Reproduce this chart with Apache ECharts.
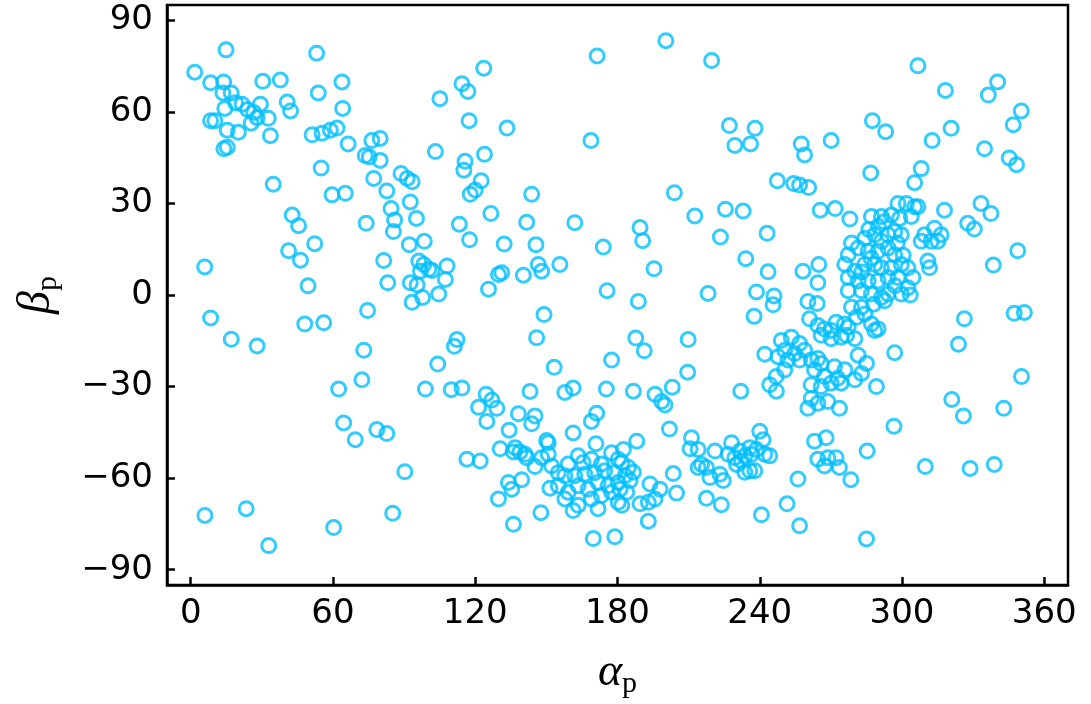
<!DOCTYPE html>
<html>
<head>
<meta charset="utf-8">
<script src="https://cdn.jsdelivr.net/npm/echarts@6/dist/echarts.min.js"></script>
<style>
html, body { margin: 0; padding: 0; background: #fff; }
#chart { width: 1091px; height: 704px; }
</style>
</head>
<body>
<div id="chart"></div>
<script>
// tick labels
var xTicks = [0, 60, 120, 180, 240, 300, 360];
var yTicks = [-90, -60, -30, 0, 30, 60, 90];

// alpha_p / beta_p values, grouped by region
var ptsUpperLeft = [
[14.9,80.3],[1.7,73.0],[8.4,69.5],[13.9,69.8],[13.6,66.2],[17.1,66.2],[18.9,63.0],[21.7,62.5],[14.4,61.1],[24.0,60.8],
[29.4,62.5],[26.6,59.8],[28.0,58.1],[25.5,56.3],[32.7,57.9],[8.4,57.1],[10.2,57.1],[15.4,54.0],[20.1,53.3],[33.6,52.2],
[14.0,47.9],[15.4,48.4],[30.4,70.0],[37.8,70.4],[40.7,63.2],[42.1,60.3],[34.8,36.3],[53.1,79.2],[53.8,66.2],[63.8,69.8],
[64.1,61.1],[51.2,52.5],[55.4,53.0],[58.9,54.0],[61.7,54.7],[66.4,49.5],[55.0,41.6],[76.4,50.6],[79.9,51.3],[73.6,45.7],
[75.3,45.2],[79.9,44.1],[77.2,38.2],[82.7,34.1],[59.6,32.8],[65.2,33.3],
[171.4,78.3],[168.8,50.6],[123.6,74.3],[114.4,69.2],[116.9,66.7],[105.1,64.3],[117.4,57.1],[133.4,54.7],[103.2,47.0],
[123.9,46.1],[115.7,43.8],[115.2,40.9],[122.5,37.4],[120.0,34.4],[117.9,33.0],[88.7,39.8],[91.3,38.2],[93.4,37.1],
[92.6,30.5],[143.8,33.0]
];
var ptsUpperRight = [
[200.4,83.3],[219.7,76.8],[227.2,55.5],[238.0,54.6],[229.5,49.0],[236.1,49.5],[257.5,49.5],[258.9,45.9],[270.1,50.6],
[204.0,33.5],[247.4,37.4],[254.3,36.5],[256.8,36.0],[260.6,35.2],
[306.7,75.1],[318.3,67.0],[340.3,69.8],[336.4,65.5],[350.3,60.3],[346.9,55.8],[287.5,57.1],[293.1,53.5],[312.7,50.6],
[320.7,54.6],[334.8,47.9],[345.2,44.9],[348.3,42.7],[286.8,40.0],[308.1,41.4],[305.3,36.8]
];
var ptsMiddleLeft = [
[42.8,26.2],[45.5,22.7],[74.0,23.5],[84.5,28.3],[86.0,24.6],[85.5,20.8],[52.3,16.8],[41.3,14.5],[46.3,11.4],[5.9,9.2],
[49.5,3.0],[81.4,11.3],[83.1,4.0],[74.6,-5.1],[8.4,-7.5],[48.1,-9.5],[56.1,-9.1],[17.1,-14.5],[28.0,-16.7],[73.0,-18.1],
[72.2,-27.8],[62.4,-30.8],
[95.2,25.1],[126.6,26.7],[113.3,23.2],[141.7,23.8],[162.0,23.7],[92.2,16.5],[98.5,17.6],[117.6,18.1],[132.2,16.7],
[145.6,16.5],[174.0,15.7],[96.2,11.1],[98.3,10.0],[100.4,8.4],[96.9,7.8],[101.8,8.0],[108.1,9.5],[107.4,5.1],[92.6,4.0],
[95.5,3.3],[97.8,-0.8],[93.4,-2.4],[104.6,0.3],[125.6,1.9],[129.8,6.7],[131.2,7.3],[140.3,6.5],[146.6,10.0],[148.0,7.8],
[155.7,10.0],[175.6,1.4],[149.0,-6.4],[145.9,-14.0],[112.3,-14.6],[111.2,-16.8],[104.2,-22.6],[153.3,-23.7],[177.5,-21.3],
[99.0,-30.8],[109.9,-31.0],[114.4,-30.5],[124.6,-32.5],[143.1,-31.6],[157.8,-31.9],[161.3,-30.5],[175.3,-30.8]
];
var ptsMiddleRight = [
[225.5,28.1],[233.0,27.5],[212.6,25.9],[189.5,22.1],[190.6,17.8],[223.4,19.0],[243.1,20.2],[265.5,27.8],[271.8,28.3],
[195.4,8.6],[234.1,11.9],[243.5,7.6],[258.2,7.8],[264.9,10.0],[264.5,4.0],[275.9,10.0],[218.2,0.5],[188.8,-2.1],
[238.6,1.0],[246.0,-0.3],[245.6,-3.2],[260.3,-2.1],[264.2,-2.8],[237.6,-7.0],[261.0,-7.8],
[264.5,-10.0],[267.3,-11.1],[270.1,-11.6],[272.2,-8.9],[265.9,-13.2],[270.1,-14.3],[274.3,-13.8],[275.7,-9.5],
[187.7,-14.1],[191.3,-18.3],[209.8,-14.6],
[249.1,-14.9],[253.3,-13.8],[256.8,-15.9],[250.5,-18.1],[254.7,-19.2],[258.9,-18.1],[247.7,-20.2],[251.9,-21.3],
[256.8,-21.3],[250.5,-24.6],[242.1,-19.4],[246.9,-26.7],[244.2,-29.4],
[261.7,-21.3],[264.5,-20.8],[265.9,-22.4],[263.1,-24.6],[267.3,-26.7],[271.5,-23.5],[272.9,-27.3],[261.7,-29.4],
[265.9,-30.0],[270.1,-28.9],[274.3,-28.9],
[209.6,-25.3],[186.7,-31.5],[195.8,-32.5],[203.1,-30.2],[232.0,-31.5],[247.0,-31.5],
[278.0,24.9],[287.1,25.7],[291.3,25.7],[295.5,26.2],[298.3,30.0],[301.8,30.0],[305.3,28.9],[306.7,28.9],[303.9,25.7],
[299.0,25.1],[317.9,27.8],[333.3,30.0],[337.5,26.7],[327.7,23.5],[330.5,21.6],[348.8,14.5],[338.5,9.8],[347.3,-6.0],
[351.6,-5.7],[326.3,-7.8],[323.8,-16.1],[350.4,-26.7],[296.9,-18.9],[289.2,-30.0],[281.5,-19.7],[285.0,-22.4],
[282.9,-25.7],[280.1,-27.8],[275.9,-24.5],
[309.5,19.7],[313.7,21.9],[316.5,19.7],[308.1,17.6],[312.3,17.6],[315.1,17.6],[310.9,11.1],[311.6,8.9],
[278.7,17.0],[281.5,15.4],[284.3,18.6],[288.5,19.7],[291.3,17.6],[294.1,19.7],[296.9,20.8],[299.7,19.7],[285.7,14.3],
[289.9,14.3],[294.1,15.4],[296.9,13.2],[288.5,10.0],[284.3,10.0],[291.3,8.9],[295.5,8.9],[299.7,10.0],[302.5,8.9],
[304.6,5.7],[280.1,7.8],[277.3,5.7],[281.5,4.6],[285.7,4.6],[289.9,4.6],[294.1,5.7],[298.3,5.7],[282.9,1.4],[287.1,0.3],
[291.3,-0.8],[294.1,0.3],[299.7,0.3],[302.5,2.4],[292.7,-1.9],[277.3,1.4],[277.3,13.2],
[290.0,22.5],[292.5,24.0],[286.0,21.5],[298.0,17.0],[300.5,13.0],[287.0,12.0],[283.0,7.5],[297.0,3.0],[303.5,0.0],[288.0,-3.0],
[278.7,-4.0],[282.9,-4.0],[280.8,-7.3],[284.3,-6.2],[287.1,-9.5],[289.9,-11.1],[288.5,-11.6],[277.3,-10.5],[280.1,-14.3],[276.6,-13.2]
];
var ptsLowerLeft = [
[64.5,-41.9],[69.4,-47.4],[78.5,-44.1],[82.7,-45.4],[6.0,-72.2],[23.4,-70.0],[32.9,-82.1],[60.3,-76.2],[85.2,-71.5],
[90.3,-57.9],[127.0,-34.4],[129.1,-37.1],[121.4,-36.8],[124.9,-41.4],[138.2,-38.9],[145.2,-39.6],[143.8,-42.2],[134.3,-44.3],
[161.3,-45.2],[171.2,-38.7],[169.0,-41.4],[170.9,-48.7],[150.1,-47.7],[150.8,-48.4],[130.5,-50.4],[136.8,-50.0],
[136.1,-51.4],[138.9,-51.4],[141.0,-52.2],[141.7,-53.3],[145.2,-56.2],[148.0,-53.3],[150.8,-52.2],[116.5,-53.8],[122.1,-54.4],
[152.2,-56.0],[155.0,-58.2],[159.2,-55.4],[163.4,-52.7],[165.5,-54.9],[169.0,-53.8],[173.2,-55.4],[177.5,-51.7],
[180.3,-53.8],[157.8,-59.2],[162.0,-59.2],[166.2,-58.7],[170.4,-58.2],[174.6,-57.6],[178.8,-58.2],[155.0,-62.5],
[159.2,-64.6],[163.4,-62.5],[167.6,-63.6],[171.8,-61.4],[176.0,-62.5],[180.3,-61.4],[157.8,-66.8],[163.4,-68.9],
[169.0,-66.8],[173.2,-65.7],[177.5,-64.6],[180.3,-67.9],[161.3,-70.6],[171.8,-70.0],
[151.5,-63.3],[134.0,-61.4],[135.4,-63.6],[139.6,-60.5],[129.8,-66.8],[147.7,-71.3],[136.1,-75.1],[169.8,-79.8],[178.9,-79.2]
];
var ptsLowerRight = [
[198.6,-34.9],[200.0,-36.0],[261.7,-33.9],[264.5,-35.5],[260.3,-37.1],[268.7,-34.9],[273.6,-37.1],
[201.9,-43.9],[188.1,-47.9],
[182.5,-50.6],[181.8,-54.9],[184.6,-56.5],[186.7,-58.1],[183.2,-59.2],[185.3,-60.8],[181.1,-63.6],[183.9,-64.6],[181.8,-68.9],
[193.7,-61.9],[197.9,-63.6],[195.8,-66.8],[193.0,-67.9],[189.5,-68.4],[193.0,-74.1],
[203.5,-58.5],[204.9,-64.9],[211.2,-46.8],[210.6,-50.4],[214.0,-50.6],[215.4,-55.5],[214.0,-56.5],[217.5,-56.5],
[221.1,-51.1],[219.0,-59.8],[223.2,-58.7],[224.6,-60.8],[217.5,-66.6],[223.8,-68.7],
[228.1,-48.4],[226.7,-52.2],[229.5,-53.3],[231.6,-51.1],[232.3,-54.4],[233.7,-52.7],[235.8,-50.0],[236.5,-52.2],
[238.6,-50.6],[240.0,-44.6],[241.4,-47.4],[242.1,-52.2],[244.2,-52.7],[233.7,-58.1],[235.8,-57.6],[237.9,-57.6],[230.2,-55.5],
[256.1,-60.3],[240.7,-72.0],[251.5,-68.4],[256.8,-75.6],[263.1,-47.9],[268.0,-46.8],[264.5,-53.8],[268.7,-53.3],
[272.2,-53.3],[267.3,-56.0],[273.6,-56.5],
[321.0,-34.2],[325.9,-39.6],[342.9,-37.1],[296.6,-43.0],[285.3,-51.1],[278.4,-60.5],[309.8,-56.2],[328.7,-56.8],
[338.9,-55.5],[285.0,-79.9]
];

var allPts = ptsUpperLeft.concat(ptsUpperRight, ptsMiddleLeft, ptsMiddleRight, ptsLowerLeft, ptsLowerRight);

var myChart = echarts.init(document.getElementById('chart'));

function fmt(v) {
  return String(v).replace('-', '\u2212');
}

var tickFont = { fontFamily: 'DejaVu Sans', fontSize: 34, color: '#000' };
var nameRich = {
  g: { fontFamily: 'Liberation Serif', fontStyle: 'italic', fontSize: 46, lineHeight: 52, color: '#000' },
  s: { fontFamily: 'Liberation Serif', fontSize: 30, lineHeight: 22, verticalAlign: 'bottom', color: '#000' }
};

myChart.setOption({
  animation: false,
  grid: {
    left: 167, right: 23, top: 5, bottom: 114,
    show: true, borderColor: '#000', borderWidth: 2.5
  },
  xAxis: {
    type: 'value',
    min: -10, max: 370,
    name: '{g|α}{s|p}',
    nameLocation: 'middle',
    nameGap: 62,
    nameTextStyle: { rich: nameRich },
    axisLine: { onZero: false, lineStyle: { color: '#000', width: 2.5 } },
    axisTick: { inside: true, length: 8, lineStyle: { color: '#000', width: 2.5 }, customValues: xTicks },
    axisLabel: Object.assign({ margin: 12, formatter: fmt, customValues: xTicks }, tickFont),
    splitLine: { show: false }
  },
  yAxis: {
    type: 'value',
    min: -95, max: 95,
    name: '{g|β}{s|p}',
    nameLocation: 'middle',
    nameGap: 104,
    nameRotate: 90,
    nameTextStyle: { rich: nameRich },
    axisLine: { onZero: false, lineStyle: { color: '#000', width: 2.5 } },
    axisTick: { inside: true, length: 8, lineStyle: { color: '#000', width: 2.5 }, customValues: yTicks },
    axisLabel: Object.assign({ margin: 14, formatter: fmt, customValues: yTicks }, tickFont),
    splitLine: { show: false }
  },
  series: [{
    type: 'scatter',
    data: allPts,
    symbol: 'circle',
    symbolSize: 14,
    itemStyle: { color: 'rgba(0,0,0,0)', borderColor: '#00bfff', borderWidth: 3 }
  }]
});
</script>
</body>
</html>
